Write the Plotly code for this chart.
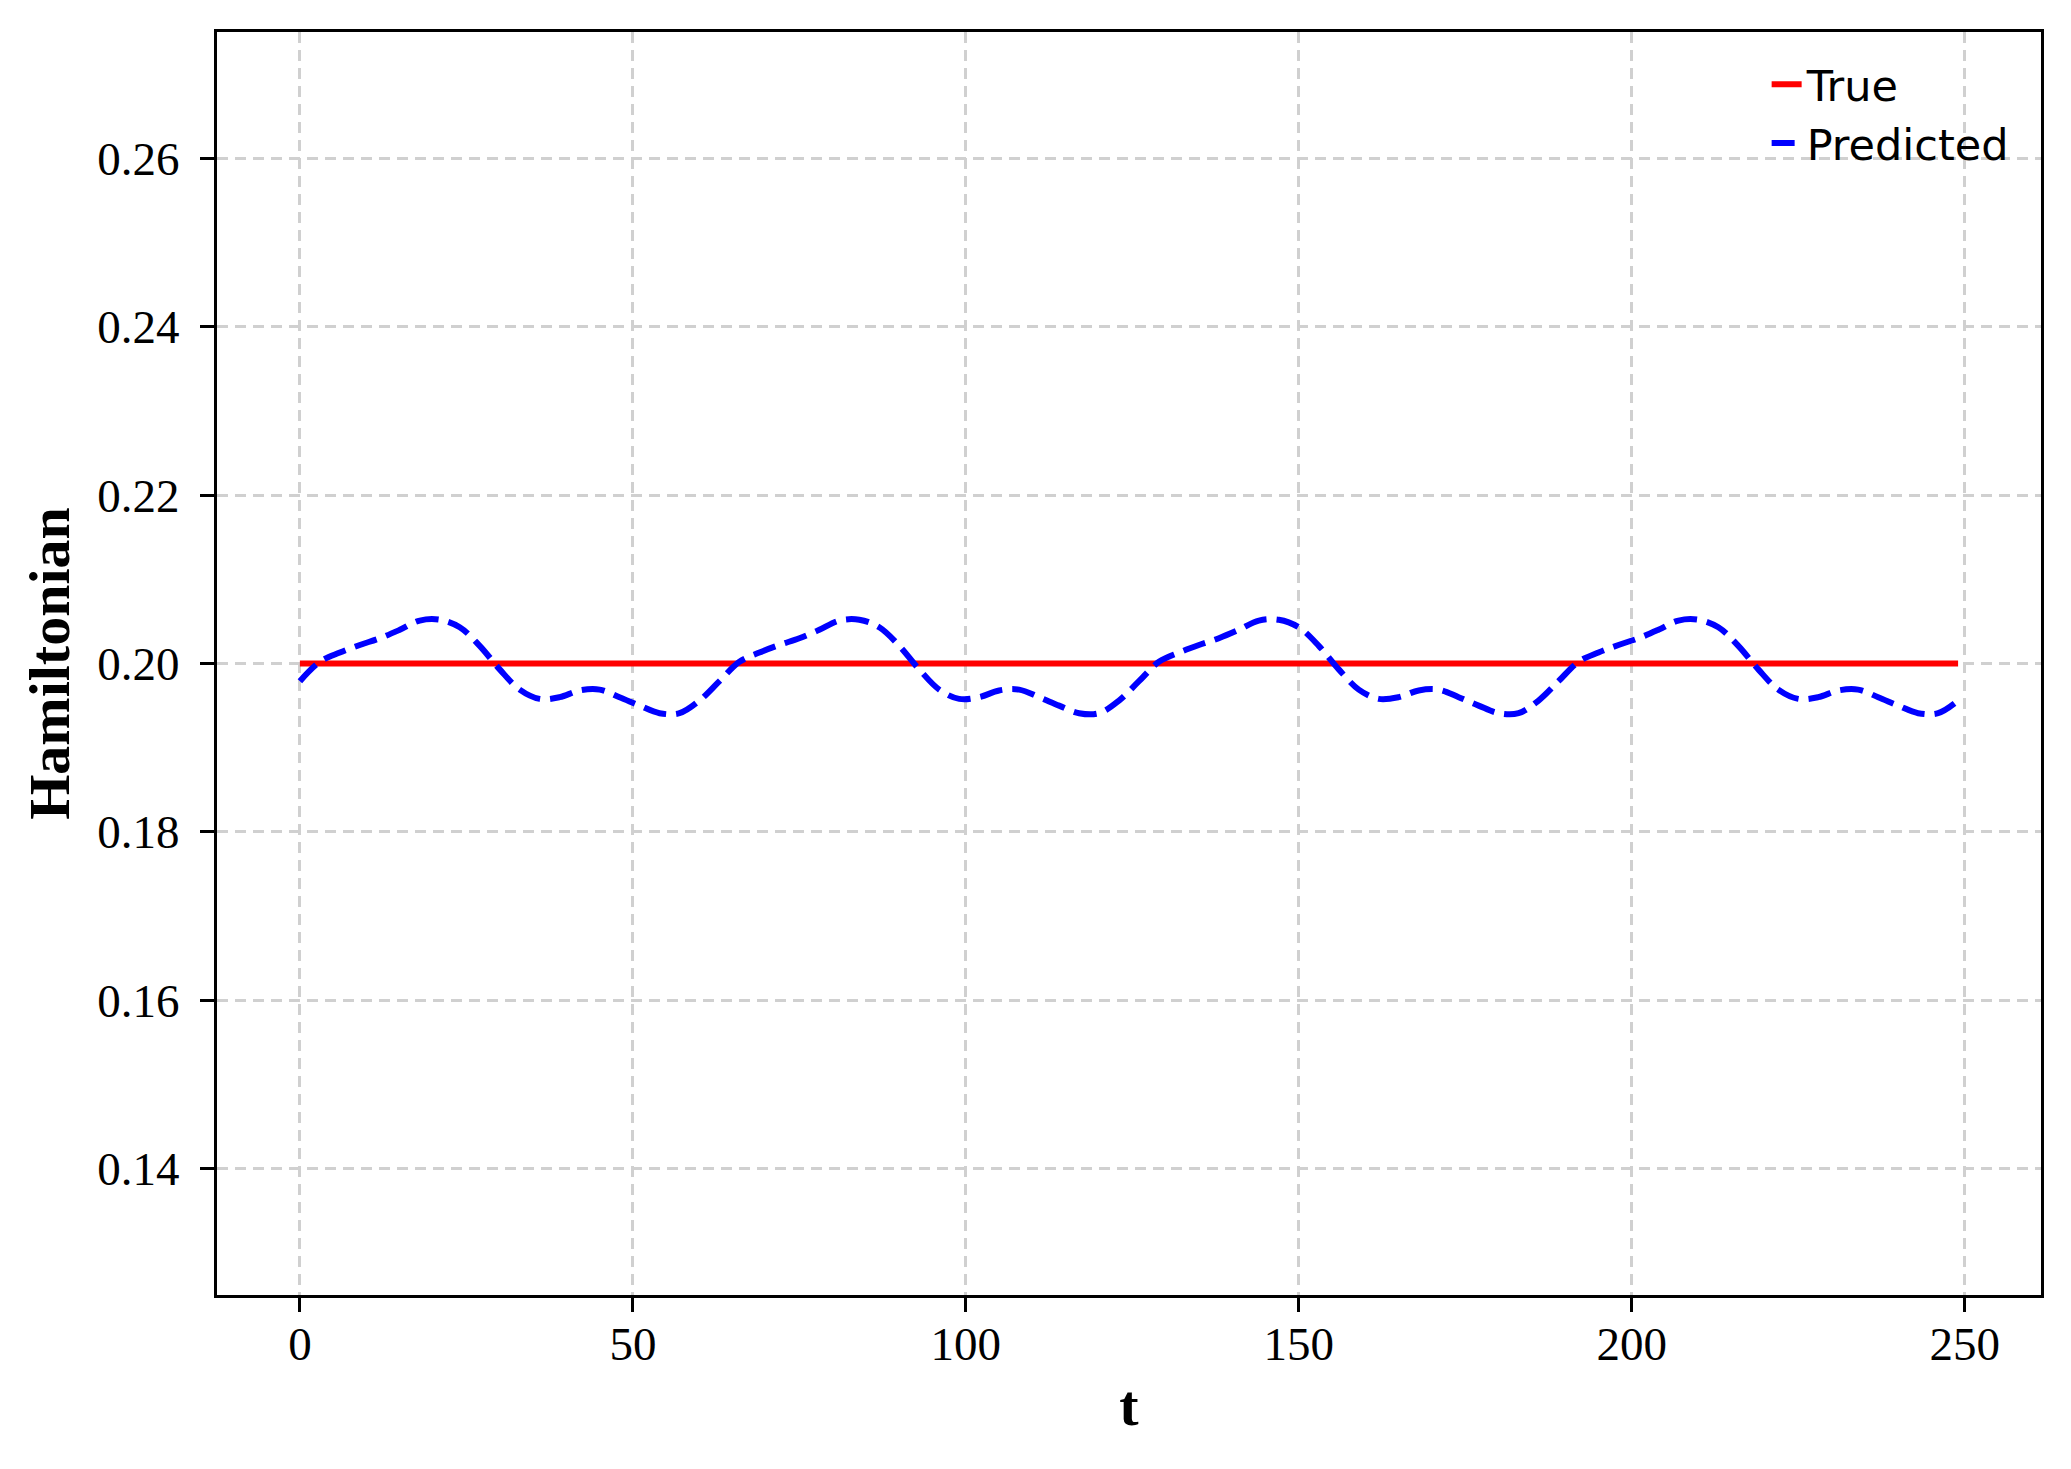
"""
Hamiltonian over time: true constant vs predicted trajectory
"""

import plotly.graph_objects as go

# =============================================================================
# Data
# =============================================================================
t_true = [0, 249]
h_true = [0.2, 0.2]

t_pred = list(range(0, 250, 3))
h_pred = [
    0.1979, 0.2002, 0.2013, 0.2022, 0.2030, 0.2040, 0.2051, 0.2052, 0.2043, 0.2021, 0.1993,
    0.1969, 0.1958, 0.1960, 0.1968, 0.1969, 0.1960, 0.1950, 0.1941, 0.1941, 0.1956,
    0.1979, 0.2002, 0.2013, 0.2022, 0.2030, 0.2040, 0.2051, 0.2052, 0.2043, 0.2021, 0.1993,
    0.1969, 0.1958, 0.1960, 0.1968, 0.1969, 0.1960, 0.1950, 0.1941, 0.1941, 0.1956,
    0.1979, 0.2002, 0.2013, 0.2022, 0.2030, 0.2040, 0.2051, 0.2052, 0.2043, 0.2021, 0.1993,
    0.1969, 0.1958, 0.1960, 0.1968, 0.1969, 0.1960, 0.1950, 0.1941, 0.1941, 0.1956,
    0.1979, 0.2002, 0.2013, 0.2022, 0.2030, 0.2040, 0.2051, 0.2052, 0.2043, 0.2021, 0.1993,
    0.1969, 0.1958, 0.1960, 0.1968, 0.1969, 0.1960, 0.1950, 0.1941, 0.1941, 0.1956,
]

x_ticks = [0, 50, 100, 150, 200, 250]
y_ticks = [0.14, 0.16, 0.18, 0.20, 0.22, 0.24, 0.26]

SERIF = "Liberation Serif, Times New Roman, serif"

# =============================================================================
# Figure
# =============================================================================
fig = go.Figure()

fig.add_trace(go.Scatter(
    x=t_true, y=h_true, mode='lines', name='True',
    line=dict(color='#ff0000', width=6)
))
fig.add_trace(go.Scatter(
    x=t_pred, y=h_pred, mode='lines', name='Predicted',
    line=dict(color='#0000ff', width=6, dash='23px,10px', shape='spline', smoothing=1.0)
))

axis_common = dict(
    showline=True, mirror=True, linecolor='black', linewidth=3,
    ticks='outside', ticklen=14, tickwidth=3, tickcolor='black',
    showgrid=True, gridcolor='#d0d0d0', gridwidth=3, griddash='11px,7px',
    zeroline=False,
    tickfont=dict(family=SERIF, size=47, color='black'),
)

fig.update_xaxes(
    range=[-12.45, 261.45], tickvals=x_ticks, ticklabelstandoff=-8,
    title=dict(text='<b>t</b>', font=dict(family=SERIF, size=58, color='black'), standoff=15),
    **axis_common
)
fig.update_yaxes(
    range=[0.125, 0.275], tickvals=y_ticks, tickformat='.2f', ticklabelstandoff=11,
    title=dict(text='<b>Hamiltonian</b>', font=dict(family=SERIF, size=58, color='black'), standoff=10),
    **axis_common
)

fig.update_layout(
    width=2063, height=1461,
    margin=dict(l=209, r=30, t=24, b=174),
    plot_bgcolor='white', paper_bgcolor='white',
    legend=dict(
        x=0.985, y=0.986, xanchor='right', yanchor='top',
        bgcolor='rgba(0,0,0,0)', borderwidth=0,
        font=dict(family='DejaVu Sans', size=43, color='black'),
    ),
)

fig.write_html('out.html')
